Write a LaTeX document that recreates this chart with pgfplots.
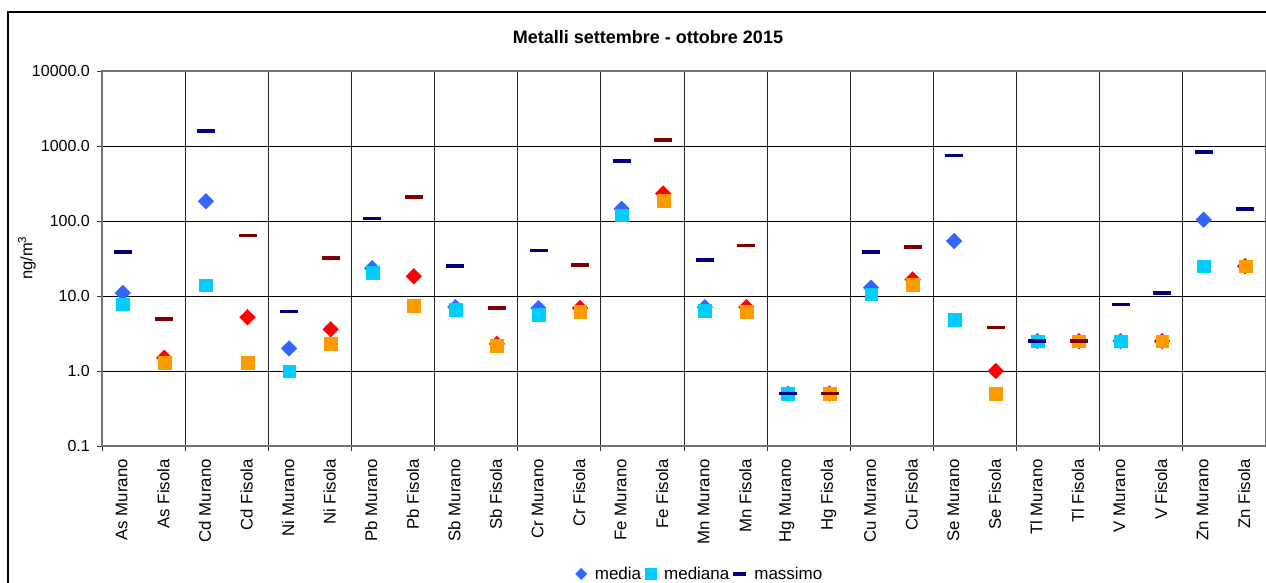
\documentclass[border=0pt]{standalone}
\usepackage{pgfplots}
\pgfplotsset{compat=1.18}
\usepackage{pgfplotstable}
\usepackage{fontspec}
\setmainfont{Liberation Sans}
\definecolor{medM}{HTML}{3366FF}
\definecolor{medF}{HTML}{FF0000}
\definecolor{mdnM}{HTML}{00CCFF}
\definecolor{mdnF}{HTML}{FF9900}
\definecolor{maxM}{HTML}{000080}
\definecolor{maxF}{HTML}{800000}

\pgfplotstableread{
x media mediana massimo
0 11.0 7.8 39
2 183 14 1570
4 2.0 1.0 6.2
6 23.5 20.3 108
8 7.1 6.6 25
10 6.9 5.6 40.5
12 145 120 625
14 7.1 6.4 30.5
16 0.5 0.5 0.5
18 12.9 10.6 38.6
20 54 4.9 745
22 2.5 2.5 2.5
24 2.5 2.5 7.7
26 104 25 841
}\murano

\pgfplotstableread{
x media mediana massimo massimoB
1 1.5 1.3 4.9 nan
3 5.2 1.3 64 nan
5 3.6 2.3 32 nan
7 18.3 7.5 209 nan
9 2.3 2.2 7.0 nan
11 6.9 6.2 26 nan
13 232 185 1200 nan
15 7.1 6.2 47 nan
17 0.5 0.5 0.5 nan
19 16.6 14.3 45 nan
21 1.0 0.5 3.8 nan
23 2.5 2.5 2.5 nan
25 2.5 2.5 nan 10.9
27 25 25 nan 145
}\fisola

\begin{document}
\begin{tikzpicture}
\begin{axis}[
  at={(102pt,-446pt)}, anchor=south west,
  scale only axis, width=1164pt, height=375pt,
  xmin=-0.5, xmax=27.5,
  ymode=log, ymin=0.1, ymax=10000,
  ytick={0.1,1,10,100,1000,10000},
  yticklabels={0.1,1.0,10.0,100.0,1000.0,10000.0},
  yminorticks=false,
  xtick={0,...,27},
  xticklabels={As Murano,As Fisola,Cd Murano,Cd Fisola,Ni Murano,Ni Fisola,Pb Murano,Pb Fisola,Sb Murano,Sb Fisola,Cr Murano,Cr Fisola,Fe Murano,Fe Fisola,Mn Murano,Mn Fisola,Hg Murano,Hg Fisola,Cu Murano,Cu Fisola,Se Murano,Se Fisola,Tl Murano,Tl Fisola,V Murano,V Fisola,Zn Murano,Zn Fisola},
  minor xtick={-0.5,1.5,...,27.5},
  xminorgrids=true, ymajorgrids=true, xmajorgrids=false,
  xtick pos=bottom, ytick pos=left,
  major x tick style={draw=none},
  tick align=outside,
  major tick length=5pt, minor tick length=5pt,
  tick style={black!80, line width=0.8pt},
  major grid style={black, line width=0.8pt},
  minor grid style={black!85, line width=0.8pt},
  axis line style={black!55, line width=1.2pt},
  /pgf/number format/assume math mode=true,
  yticklabel style={font=\fontsize{16}{19}\selectfont, inner sep=0pt, xshift=-7pt},
  xticklabel style={font=\fontsize{16.8}{19}\selectfont, rotate=90, anchor=east, inner sep=0pt, xshift=-8pt, yshift=1pt},
  clip=false,
  legend style={at={(0.5137,-0.3413)}, anchor=center, draw=none, fill=none,
    legend columns=3, font=\fontsize{17}{20}\selectfont,
    /tikz/every even column/.append style={column sep=2pt},
    /tikz/every odd column/.append style={column sep=6pt}},
  legend image code/.code={\draw[mark repeat=2,mark phase=2,#1] plot coordinates {(0pt,0pt)(5pt,0pt)(10pt,0pt)};},
]
\addlegendimage{only marks, mark=square*, mark size=4pt, mark options={rotate=45, fill=medM, draw=medM}}
\addlegendentry{media}
\addlegendimage{only marks, mark=square*, mark size=5.5pt, mark options={fill=mdnM, draw=mdnM}}
\addlegendentry{mediana}
\addlegendimage{only marks, mark=-, mark size=6.5pt, mark options={draw=maxM, line width=3.5pt}}
\addlegendentry{massimo}

\addplot[forget plot, only marks, mark=square*, mark size=5.6pt, mark options={rotate=45, fill=medM, draw=medM, line width=0.2pt}] table[x=x, y=media] {\murano};
\addplot[forget plot, only marks, mark=square*, mark size=5.6pt, mark options={rotate=45, fill=medF, draw=medF, line width=0.2pt}] table[x=x, y=media] {\fisola};
\addplot[forget plot, only marks, mark=square*, mark size=6.4pt, mark options={fill=mdnM, draw=mdnM, line width=0.2pt}] table[x=x, y=mediana] {\murano};
\addplot[forget plot, only marks, mark=square*, mark size=6.4pt, mark options={fill=mdnF, draw=mdnF, line width=0.2pt}] table[x=x, y=mediana] {\fisola};
\addplot[forget plot, only marks, mark=-, mark size=9pt, mark options={draw=maxM, line width=3.8pt}] table[x=x, y=massimo] {\murano};
\addplot[forget plot, only marks, mark=-, mark size=9pt, mark options={draw=maxM, line width=3.8pt}] table[x=x, y=massimoB] {\fisola};
\addplot[forget plot, only marks, mark=-, mark size=9pt, mark options={draw=maxF, line width=3.8pt}] table[x=x, y=massimo] {\fisola};
\end{axis}
\node[font=\bfseries\fontsize{18}{21}\selectfont] at (648pt,-37pt) {Metalli settembre - ottobre 2015};
\node[rotate=90, font=\fontsize{16.5}{19}\selectfont] at (27pt,-258pt) {ng/m\textsuperscript{3}};
\draw[black, line width=1.2pt] (8pt,-12pt) rectangle (1320pt,-620pt);
\pgfresetboundingbox
\useasboundingbox (0pt,0pt) rectangle (1266pt,-583pt);
\end{tikzpicture}
\end{document}
